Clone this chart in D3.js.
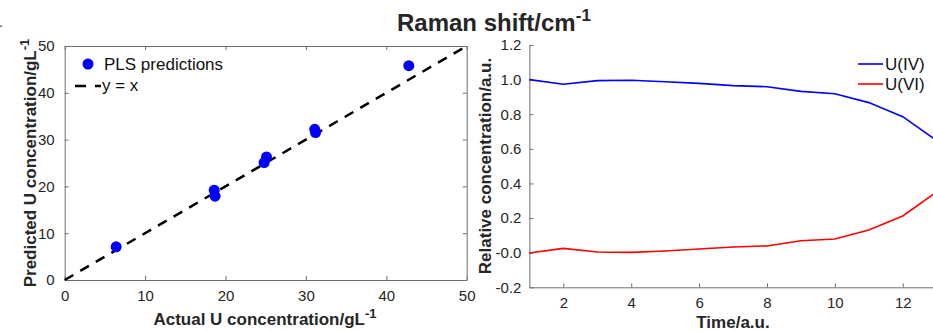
<!DOCTYPE html>
<html lang="en">
<head>
    <meta charset="UTF-8" />
    <title>PLS predictions and relative concentration</title>
    <script src="https://d3js.org/d3.v7.min.js"></script>
    <style>
        body { margin: 0; background: #fff; }
        svg { display: block; font-family: "Liberation Sans", Arial, sans-serif; }
        .tick text { font-size: 15px; fill: #262626; }
        .axis path.domain, .axis line { stroke: #6e6e6e; stroke-width: 1px; }
        .label { font-size: 17px; font-weight: bold; fill: #262626; }
        .legend text { font-size: 17px; fill: #111; }
    </style>
</head>
<body>
<svg id="chart" width="933" height="331"></svg>
<script>
    // left panel: PLS predictions vs actual
    const actualConc = [6.4, 18.6, 18.7, 24.8, 25.1, 31.1, 31.2, 42.8];
    const predictedConc = [7.1, 19.2, 17.9, 25.1, 26.3, 32.2, 31.5, 45.8];
    const concTicks = [0, 10, 20, 30, 40, 50];

    // right panel: relative concentration over time
    const timePoints = [1, 2, 3, 4, 5, 6, 7, 8, 9, 10, 11, 12, 13];
    const uIV = [1.000, 0.973, 0.994, 0.996, 0.988, 0.978, 0.965, 0.959, 0.932, 0.918, 0.867, 0.786, 0.647];
    const uVI = [-0.002, 0.025, 0.004, 0.002, 0.010, 0.021, 0.033, 0.039, 0.069, 0.079, 0.131, 0.212, 0.351];
    const timeTicks = [2, 4, 6, 8, 10, 12];
    const relTicks = [-0.2, 0, 0.2, 0.4, 0.6, 0.8, 1.0, 1.2];
    const relTickLabels = ["-0.2", "-0.0", "0.2", "0.4", "0.6", "0.8", "1.0", "1.2"];

    const svg = d3.select("#chart");

    // title
    const title = svg.append("text")
        .attr("x", 397).attr("y", 31)
        .attr("font-size", 24).attr("font-weight", "bold").attr("fill", "#262626");
    title.append("tspan").text("Raman shift/cm");
    title.append("tspan").attr("dy", -10).attr("font-size", 17).text("-1");

    // small stray mark top-left
    svg.append("text").attr("x", -1).attr("y", 27).attr("font-size", 14).attr("fill", "#333").text(".");

    // ---------- left panel ----------
    const xL = d3.scaleLinear().domain([0, 50]).range([64.7, 466.7]);
    const yL = d3.scaleLinear().domain([0, 50]).range([280, 46]);

    function styleAxis(g) {
        g.attr("class", "axis");
        g.selectAll(".tick line").attr("stroke", "#6e6e6e");
    }

    svg.append("g").attr("transform", `translate(0,${yL(0)})`)
        .call(d3.axisBottom(xL).tickValues(concTicks).tickSizeInner(-4).tickSizeOuter(0).tickPadding(10))
        .call(styleAxis);
    svg.append("g").attr("transform", `translate(0,${yL(50)})`)
        .call(d3.axisTop(xL).tickValues(concTicks).tickSizeInner(-4).tickSizeOuter(0).tickFormat(""))
        .call(styleAxis);
    svg.append("g").attr("transform", `translate(${xL(0)},0)`)
        .call(d3.axisLeft(yL).tickValues(concTicks).tickSizeInner(-4).tickSizeOuter(0).tickPadding(10))
        .call(styleAxis);
    svg.append("g").attr("transform", `translate(${xL(50)},0)`)
        .call(d3.axisRight(yL).tickValues(concTicks).tickSizeInner(-4).tickSizeOuter(0).tickFormat(""))
        .call(styleAxis);

    // y = x line
    svg.append("line")
        .attr("x1", xL(0)).attr("y1", yL(0))
        .attr("x2", xL(50)).attr("y2", yL(50))
        .attr("stroke", "#000").attr("stroke-width", 2.5)
        .attr("stroke-dasharray", "10,8");

    svg.append("g").selectAll("circle")
        .data(actualConc)
        .join("circle")
        .attr("cx", d => xL(d))
        .attr("cy", (d, i) => yL(predictedConc[i]))
        .attr("r", 5.5)
        .attr("fill", "#0000ff");

    // left legend
    const legL = svg.append("g").attr("class", "legend");
    legL.append("circle").attr("cx", 88).attr("cy", 64).attr("r", 5.5).attr("fill", "#0000ff");
    legL.append("text").attr("x", 104).attr("y", 70).text("PLS predictions");
    legL.append("line").attr("x1", 75).attr("x2", 101).attr("y1", 86).attr("y2", 86)
        .attr("stroke", "#000").attr("stroke-width", 2.5).attr("stroke-dasharray", "11,9");
    legL.append("text").attr("x", 102).attr("y", 91).text("y = x");

    // left labels
    const xlabL = svg.append("text").attr("class", "label")
        .attr("x", 265).attr("y", 325).attr("text-anchor", "middle");
    xlabL.append("tspan").text("Actual U concentration/gL");
    xlabL.append("tspan").attr("dy", -7).attr("font-size", 13).text("-1");

    const ylabL = svg.append("text").attr("class", "label")
        .attr("transform", "translate(36,163) rotate(-90)").attr("text-anchor", "middle");
    ylabL.append("tspan").text("Predicted U concentration/gL");
    ylabL.append("tspan").attr("dy", -7).attr("font-size", 13).text("-1");

    // ---------- right panel ----------
    const xR = d3.scaleLinear().domain([1, 13]).range([529.4, 936.7]);
    const yR = d3.scaleLinear().domain([-0.2, 1.2]).range([287.3, 45]);

    svg.append("g").attr("transform", `translate(0,${yR(-0.2)})`)
        .call(d3.axisBottom(xR).tickValues(timeTicks).tickSizeInner(-4).tickSizeOuter(0).tickPadding(10))
        .call(styleAxis);
    svg.append("g").attr("transform", `translate(${xR(1)},0)`)
        .call(d3.axisLeft(yR).tickValues(relTicks).tickSizeInner(-4).tickSizeOuter(0).tickPadding(8)
            .tickFormat((d, i) => relTickLabels[i]))
        .call(styleAxis);

    const line = d3.line().x((d, i) => xR(timePoints[i])).y(d => yR(d));
    svg.append("path").datum(uIV).attr("d", line)
        .attr("fill", "none").attr("stroke", "#0000ff").attr("stroke-width", 1.6);
    svg.append("path").datum(uVI).attr("d", line)
        .attr("fill", "none").attr("stroke", "#ff0000").attr("stroke-width", 1.6);

    // right legend
    const legR = svg.append("g").attr("class", "legend");
    legR.append("line").attr("x1", 858).attr("x2", 883).attr("y1", 64).attr("y2", 64)
        .attr("stroke", "#0000ff").attr("stroke-width", 1.6);
    legR.append("text").attr("x", 885).attr("y", 70).text("U(IV)");
    legR.append("line").attr("x1", 858).attr("x2", 883).attr("y1", 84).attr("y2", 84)
        .attr("stroke", "#ff0000").attr("stroke-width", 1.6);
    legR.append("text").attr("x", 885).attr("y", 90).text("U(VI)");

    // right labels
    svg.append("text").attr("class", "label")
        .attr("x", 733).attr("y", 328).attr("text-anchor", "middle")
        .text("Time/a.u.");
    svg.append("text").attr("class", "label")
        .attr("transform", "translate(491,166) rotate(-90)").attr("text-anchor", "middle")
        .text("Relative concentration/a.u.");
</script>
</body>
</html>
